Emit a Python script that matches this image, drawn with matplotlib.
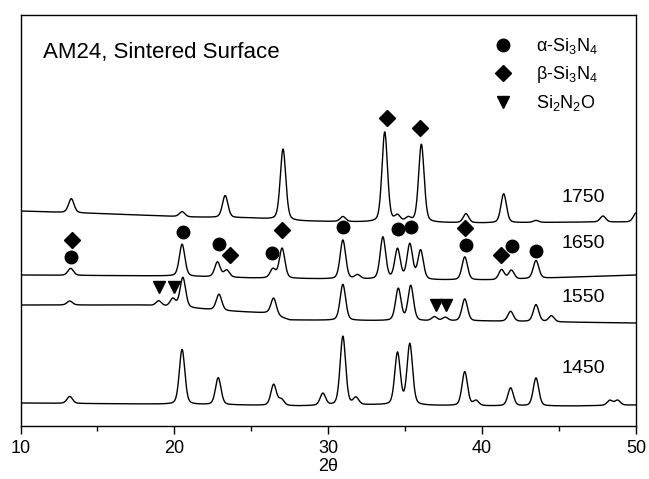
import numpy as np
import matplotlib.pyplot as plt
from matplotlib.ticker import MultipleLocator

plt.rcParams['font.family'] = ['Liberation Sans', 'DejaVu Sans']
plt.rcParams['mathtext.default'] = 'regular'

# background (2theta, level) and peaks (2theta, height above background)
bg_1450_x = [10, 18, 24, 28, 33, 40, 46, 50]
bg_1450_y = [23, 22, 21, 20, 21, 20, 20, 21]
pk_1450_x = [13.2, 20.5, 22.85, 26.45, 26.95, 29.65, 30.95, 31.8, 34.5, 35.3, 38.87, 39.6, 41.85, 43.5, 48.3, 48.8]
pk_1450_h = [7, 55, 27, 21, 6, 12, 69, 7, 52, 61, 34, 5, 18, 28, 5, 5]

bg_1550_x = [10, 18, 21, 23.5, 26, 27.5, 36, 40, 50]
bg_1550_y = [121, 121, 118, 115, 113, 106, 105, 105, 103]
pk_1550_x = [13.2, 18.98, 19.9, 20.55, 22.9, 26.45, 30.95, 34.55, 35.36, 36.9, 37.6, 38.87, 41.85, 43.5, 44.5]
pk_1550_h = [4, 5, 8, 30, 16, 17, 36, 32, 35, 4, 3.5, 22, 10, 17, 6]

bg_1650_x = [10, 20, 25, 30, 37, 41, 46, 50]
bg_1650_y = [151, 150, 148, 147, 146, 146, 149, 151]
pk_1650_x = [13.26, 20.5, 22.8, 23.4, 26.4, 27.0, 30.95, 31.9, 33.55, 34.5, 35.3, 36.0, 38.87, 41.26, 41.9, 43.5]
pk_1650_h = [7, 32, 15, 7, 9, 30, 39, 4, 42, 30, 35, 29, 23, 10, 9, 18]

bg_1750_x = [10, 16, 21, 25, 28, 32, 40, 47, 50]
bg_1750_y = [215, 212, 209, 208, 205, 204, 203, 204, 204]
pk_1750_x = [13.3, 20.5, 23.3, 27.06, 30.95, 33.67, 34.5, 35.2, 36.05, 38.95, 41.4, 43.5, 47.85, 50.0]
pk_1750_h = [14, 5, 22, 71, 5, 90, 6, 4, 78, 9, 29, 2, 6, 9]

temps = ['1450', '1550', '1650', '1750']
label_y = [58, 129, 183, 229]

# phase markers
alpha_x = [13.3, 20.54, 22.92, 26.32, 30.94, 34.51, 35.38, 38.95, 41.92, 43.5]
alpha_y = [168.7, 194.3, 182, 172.7, 198.7, 196.7, 199.3, 181, 180, 175]
beta_x = [33.83, 35.96, 13.33, 23.6, 27.0, 38.89, 41.2]
beta_y = [307.7, 297.7, 186, 171, 196, 197.7, 171]
sio_x = [19.02, 20.0, 37.0, 37.65]
sio_y = [139.3, 139.3, 121, 121]


def scan(tt, bgx, bgy, px, ph, w=0.18):
    y = np.interp(tt, bgx, bgy)
    for p, h in zip(px, ph):
        d = (tt - p) / w
        y = y + h * (0.7 * np.exp(-0.5 * d**2) + 0.3 / (1 + (d / 1.1775)**2))
    return y


tt = np.linspace(10, 50, 2401)

fig = plt.figure(figsize=(6.49, 4.79), dpi=100)
ax = fig.add_axes([0.0316, 0.1106, 0.9484, 0.858])

scans = [(bg_1450_x, bg_1450_y, pk_1450_x, pk_1450_h),
         (bg_1550_x, bg_1550_y, pk_1550_x, pk_1550_h),
         (bg_1650_x, bg_1650_y, pk_1650_x, pk_1650_h),
         (bg_1750_x, bg_1750_y, pk_1750_x, pk_1750_h)]
for (bgx, bgy, px, ph), t, ly in zip(scans, temps, label_y):
    ax.plot(tt, scan(tt, bgx, bgy, px, ph), color='k', lw=1.0)
    ax.text(48.0, ly, t, ha='right', va='center', fontsize=14)

h1, = ax.plot(alpha_x, alpha_y, 'o', color='k', ms=9, ls='none', label=r'α-Si$_3$N$_4$')
h2, = ax.plot(beta_x, beta_y, 'D', color='k', ms=8, ls='none', label=r'β-Si$_3$N$_4$')
h3, = ax.plot(sio_x, sio_y, 'v', color='k', ms=9, ls='none', label=r'Si$_2$N$_2$O')

ax.legend(handles=[h1, h2, h3], loc='upper left', bbox_to_anchor=(0.755, 0.967),
          frameon=False, fontsize=13, handlelength=1.2, handletextpad=1.2,
          labelspacing=0.45, borderaxespad=0)

ax.text(0.037, 0.908, 'AM24, Sintered Surface', transform=ax.transAxes,
        ha='left', va='center', fontsize=16)

ax.set_xlim(10, 50)
ax.set_ylim(0, 411)
ax.set_yticks([])
ax.xaxis.set_major_locator(MultipleLocator(10))
ax.xaxis.set_minor_locator(MultipleLocator(5))
ax.tick_params(axis='x', which='major', direction='out', length=6, width=1, labelsize=13, pad=4)
ax.tick_params(axis='x', which='minor', direction='out', length=3.5, width=1)
ax.set_xlabel('2θ', fontsize=13, labelpad=1)
for s in ax.spines.values():
    s.set_linewidth(1.0)

fig.savefig('out.png', dpi=100)
